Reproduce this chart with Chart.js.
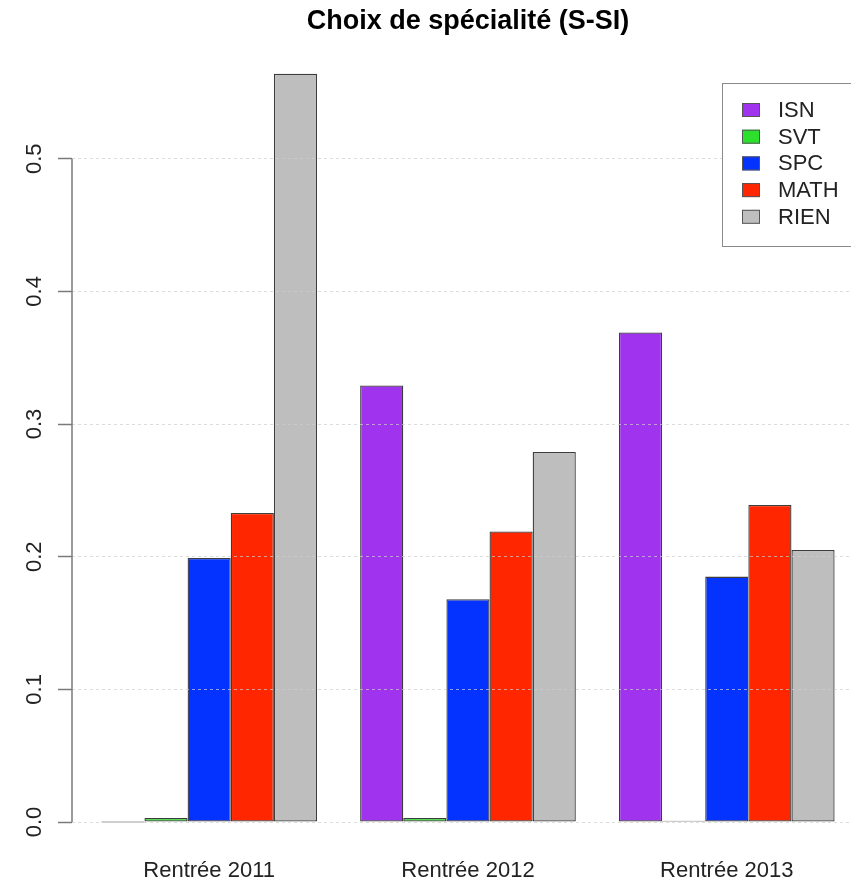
<!DOCTYPE html>
<html>
<head>
<meta charset="utf-8">
<title>Choix de spécialité (S-SI)</title>
<script src="https://cdn.jsdelivr.net/npm/chart.js@4.4.1/dist/chart.umd.min.js"></script>
<style>
    html, body { margin: 0; padding: 0; background: #ffffff; overflow: hidden; }
    canvas { display: block; }
</style>
</head>
<body>
<canvas id="choix_chart" width="851" height="884"></canvas>
<script>
const categories = ['Rentrée 2011', 'Rentrée 2012', 'Rentrée 2013'];
const seriesNames = ['ISN', 'SVT', 'SPC', 'MATH', 'RIEN'];
const isnValues = [0, 0.329, 0.369];
const svtValues = [0.003, 0.003, 0.001];
const spcValues = [0.199, 0.168, 0.185];
const mathValues = [0.233, 0.219, 0.239];
const rienValues = [0.564, 0.279, 0.205];
const yTickValues = [0, 0.1, 0.2, 0.3, 0.4, 0.5];
const yTickLabels = ['0.0', '0.1', '0.2', '0.3', '0.4', '0.5'];

const seriesValues = [isnValues, svtValues, spcValues, mathValues, rienValues];
const seriesColors = ['#a033ee', '#2ee02e', '#0433ff', '#ff2600', '#bebebe'];

// barplot layout: one empty slot then five bars per group
const groupCenter = i => 1 + 6 * i + 2.5;
const xPlotMin = 0.32;
const xPlotMax = 18.68;

const FONT = '"Liberation Sans", Arial, Helvetica, sans-serif';
Chart.defaults.font.family = FONT;

const axisLine = {
    id: 'axisLine',
    afterLayout(chart) {
        // centre the title over the plot region like R does
        const x = chart.scales.x;
        if (chart.titleBlock) {
            chart.titleBlock.left = x.getPixelForValue(xPlotMin);
            chart.titleBlock.right = x.getPixelForValue(xPlotMax);
        }
    },
    afterDraw(chart) {
        const ctx = chart.ctx;
        const y = chart.scales.y;
        const left = chart.chartArea.left;
        ctx.save();
        ctx.strokeStyle = '#7a7a7a';
        ctx.lineWidth = 1.5;
        ctx.beginPath();
        ctx.moveTo(left, y.getPixelForValue(yTickValues[0]));
        ctx.lineTo(left, y.getPixelForValue(yTickValues[yTickValues.length - 1]));
        ctx.stroke();
        ctx.restore();
    }
};

const legendBox = {
    id: 'legendBox',
    afterDraw(chart) {
        const ctx = chart.ctx;
        const left = 722, top = 83, rowH = 26.7;
        ctx.save();
        ctx.fillStyle = '#ffffff';
        ctx.fillRect(left, top, 140, 164);
        ctx.strokeStyle = '#8a8a8a';
        ctx.lineWidth = 1;
        ctx.strokeRect(left + 0.5, top + 0.5, 160, 163);
        ctx.font = '22px ' + FONT;
        ctx.textBaseline = 'middle';
        ctx.textAlign = 'left';
        chart.data.datasets.forEach((ds, i) => {
            const cy = top + 27 + i * rowH;
            ctx.fillStyle = ds.backgroundColor;
            ctx.fillRect(742, cy - 7, 18, 14);
            ctx.strokeStyle = '#555555';
            ctx.strokeRect(742.5, cy - 6.5, 17, 13);
            ctx.fillStyle = '#222222';
            ctx.fillText(ds.label, 778, cy + 1);
        });
        ctx.restore();
    }
};

const datasets = seriesNames.map((name, s) => ({
    label: name,
    data: seriesValues[s].map((v, i) => ({ x: groupCenter(i), y: v })),
    backgroundColor: seriesColors[s],
    borderColor: '#3c3c3c',
    borderWidth: 1.3,
    borderSkipped: false,
    minBarLength: 1,
    categoryPercentage: 5 / 6,
    barPercentage: 1
}));

const ctx = document.getElementById('choix_chart').getContext('2d');
window.choixChart = new Chart(ctx, {
    type: 'bar',
    data: { datasets: datasets },
    plugins: [axisLine, legendBox],
    options: {
        responsive: false,
        animation: false,
        devicePixelRatio: 1,
        layout: { padding: 0 },
        plugins: {
            legend: { display: false },
            tooltip: { enabled: false },
            title: {
                display: true,
                text: 'Choix de spécialité (S-SI)',
                color: '#000000',
                font: { size: 27, weight: 'bold', family: FONT },
                padding: { top: 5, bottom: 6.4 }
            }
        },
        scales: {
            x: {
                type: 'linear',
                min: xPlotMin,
                max: 18.38,
                offset: false,
                grid: { display: false, drawTicks: false, offset: false },
                border: { display: false },
                afterBuildTicks: scale => {
                    scale.ticks = categories.map((c, i) => ({ value: groupCenter(i) }));
                },
                afterFit: scale => { scale.height = 32; },
                ticks: {
                    autoSkip: false,
                    maxRotation: 0,
                    minRotation: 0,
                    padding: 6,
                    color: '#222222',
                    font: { size: 22 },
                    callback: (value, index) => categories[index]
                }
            },
            y: {
                type: 'linear',
                min: -0.0226,
                max: 0.5866,
                grid: {
                    color: 'rgba(205, 205, 205, 0.7)',
                    lineWidth: 1,
                    drawTicks: true,
                    tickLength: 14,
                    tickColor: '#7a7a7a',
                    tickWidth: 1.5,
                    tickBorderDash: [],
                    z: 1
                },
                border: { display: false, dash: [3, 3] },
                afterBuildTicks: scale => {
                    scale.ticks = yTickValues.map(v => ({ value: v }));
                },
                afterFit: scale => { scale.width = 72; },
                ticks: {
                    minRotation: 90,
                    maxRotation: 90,
                    crossAlign: 'center',
                    padding: 8,
                    color: '#222222',
                    font: { size: 22 },
                    callback: (value, index) => yTickLabels[index]
                }
            }
        }
    }
});
</script>
</body>
</html>
